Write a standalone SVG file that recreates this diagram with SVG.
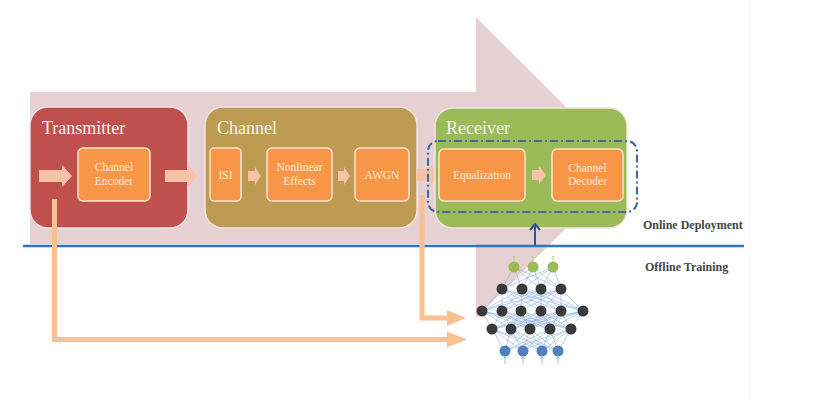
<svg xmlns="http://www.w3.org/2000/svg" width="814" height="400" viewBox="0 0 814 400">
<style>
.title{font-family:"Liberation Serif","Times New Roman",serif;font-size:18px;fill:#f7f3ee}
.inner{font-family:"Liberation Serif","Times New Roman",serif;font-size:11.5px;fill:#fde9d9;text-anchor:middle}
.label{font-family:"Liberation Serif","Times New Roman",serif;font-size:12px;font-weight:bold;fill:#454545}
.big{stroke:#f2e4e2;stroke-width:1.5}
.blk{fill:#f79646;stroke:#fbe3cf;stroke-width:1.5}
.peach{fill:#f8c3a8}
.lline{fill:none;stroke:#fbc08f;stroke-width:5}
.lhead{fill:#fbc08f}
.nnl{fill:none;stroke:#8eb0dd;stroke-width:0.7;opacity:0.85}
.nb{fill:#3a3a3a}
.ng{fill:#9bbb59}
.nu{fill:#4f81bd}
</style>
<rect width="814" height="400" fill="#ffffff"/>
<line x1="750" y1="0" x2="750" y2="400" stroke="#f3f3f3" stroke-width="1"/>

<g id="flow-arrow">
<polygon points="30,92 476,92 476,17 627,167.5 476,318 476,244 30,244" fill="#e6d0d1"/>
</g>

<g id="divider">
<line x1="23" y1="246" x2="744" y2="246" stroke="#2e75c8" stroke-width="2.5"/>
</g>

<g id="transmitter">
<rect class="big" x="30" y="107" width="158" height="121" rx="18" fill="#c0504d"/>
<text class="title" x="42" y="134">Transmitter</text>
<polygon class="peach" points="39,170 62,170 62,165 72,176 62,187 62,182 39,182"/>
<g id="channel-encoder">
<rect class="blk" x="78" y="148" width="72" height="53" rx="5"/>
<text class="inner" x="114" y="171">Channel</text>
<text class="inner" x="114" y="184.5">Encoder</text>
</g>
</g>

<g id="channel">
<rect class="big" x="205" y="107" width="212" height="121" rx="18" fill="#bd9b52"/>
<text class="title" x="217" y="134">Channel</text>
<g id="isi">
<rect class="blk" x="210" y="148" width="31" height="53" rx="4"/>
<text class="inner" x="225.5" y="179">ISI</text>
</g>
<g id="nonlinear-effects">
<rect class="blk" x="267" y="148" width="65" height="53" rx="5"/>
<text class="inner" x="299.5" y="171">Nonlinear</text>
<text class="inner" x="299.5" y="184.5">Effects</text>
</g>
<g id="awgn">
<rect class="blk" x="355" y="148" width="54" height="53" rx="5"/>
<text class="inner" x="382" y="179">AWGN</text>
</g>
</g>

<g id="connectors">
<polygon class="peach" points="165,170 187,170 187,165 197,176 187,187 187,182 165,182"/>
<polygon class="peach" points="248,171 255,171 255,167 261,176 255,185 255,181 248,181"/>
<polygon class="peach" points="338,171 344,171 344,167 350,176 344,185 344,181 338,181"/>
<polygon class="peach" points="417,169 430,169 430,164 440,175 430,186 430,181 417,181"/>
<path class="lline" d="M54.5 199V339.5H449"/>
<polygon class="lhead" points="447,331.5 467,339.5 447,347.5"/>
<path class="lline" d="M422 195V318H449"/>
<polygon class="lhead" points="447,310 466,318 447,326"/>
</g>

<g id="receiver">
<rect class="big" x="435" y="108" width="192" height="120" rx="18" fill="#9bbb59"/>
<text class="title" x="446" y="134">Receiver</text>
<g id="equalization">
<rect class="blk" x="439" y="149" width="86" height="52" rx="5"/>
<text class="inner" x="482" y="179">Equalization</text>
</g>
<polygon class="peach" points="532,170 539,170 539,166 546,175 539,184 539,180 532,180"/>
<g id="channel-decoder">
<rect class="blk" x="552" y="149" width="71" height="52" rx="5"/>
<text class="inner" x="587.5" y="171.5">Channel</text>
<text class="inner" x="587.5" y="185">Decoder</text>
</g>
</g>

<g id="deployed-block">
<rect x="428" y="141" width="209" height="71" rx="10" fill="none" stroke="#41689f" stroke-width="2" stroke-dasharray="8 3 2 3"/>
</g>

<g id="deploy-arrow">
<line x1="535" y1="246" x2="535" y2="224" stroke="#2f5597" stroke-width="2"/>
<polyline points="530,230 535,224 540,230" fill="none" stroke="#2f5597" stroke-width="2"/>
</g>

<g id="neural-network">
<path class="nnl" d="M514 267L502 289M514 267L522 289M514 267L541 289M514 267L561 289M533 267L502 289M533 267L522 289M533 267L541 289M533 267L561 289M553 267L502 289M553 267L522 289M553 267L541 289M553 267L561 289
M502 289L482 311M502 289L502 311M502 289L521 311M502 289L541 311M502 289L561 311M502 289L583 311
M522 289L482 311M522 289L502 311M522 289L521 311M522 289L541 311M522 289L561 311M522 289L583 311
M541 289L482 311M541 289L502 311M541 289L521 311M541 289L541 311M541 289L561 311M541 289L583 311
M561 289L482 311M561 289L502 311M561 289L521 311M561 289L541 311M561 289L561 311M561 289L583 311
M482 311L492 329M482 311L511 329M482 311L530 329M482 311L550 329M482 311L571 329
M502 311L492 329M502 311L511 329M502 311L530 329M502 311L550 329M502 311L571 329
M521 311L492 329M521 311L511 329M521 311L530 329M521 311L550 329M521 311L571 329
M541 311L492 329M541 311L511 329M541 311L530 329M541 311L550 329M541 311L571 329
M561 311L492 329M561 311L511 329M561 311L530 329M561 311L550 329M561 311L571 329
M583 311L492 329M583 311L511 329M583 311L530 329M583 311L550 329M583 311L571 329
M492 329L505 351M492 329L523 351M492 329L542 351M492 329L558 351
M511 329L505 351M511 329L523 351M511 329L542 351M511 329L558 351
M530 329L505 351M530 329L523 351M530 329L542 351M530 329L558 351
M550 329L505 351M550 329L523 351M550 329L542 351M550 329L558 351
M571 329L505 351M571 329L523 351M571 329L542 351M571 329L558 351"/>
<path d="M514 262V256M512.5 258L514 256L515.5 258M533 262V256M531.5 258L533 256L534.5 258M553 262V256M551.5 258L553 256L554.5 258" fill="none" stroke="#b5cf8a" stroke-width="0.8"/>
<path d="M505 364V357M503.5 359L505 357L506.5 359M523 364V357M521.5 359L523 357L524.5 359M542 364V357M540.5 359L542 357L543.5 359M558 364V357M556.5 359L558 357L559.5 359" fill="none" stroke="#8eb0dd" stroke-width="0.8"/>
<circle class="ng" cx="514" cy="267" r="5.5"/><circle class="ng" cx="533" cy="267" r="5.5"/><circle class="ng" cx="553" cy="267" r="5.5"/>
<circle class="nb" cx="502" cy="289" r="5.5"/><circle class="nb" cx="522" cy="289" r="5.5"/><circle class="nb" cx="541" cy="289" r="5.5"/><circle class="nb" cx="561" cy="289" r="5.5"/>
<circle class="nb" cx="482" cy="311" r="5.5"/><circle class="nb" cx="502" cy="311" r="5.5"/><circle class="nb" cx="521" cy="311" r="5.5"/><circle class="nb" cx="541" cy="311" r="5.5"/><circle class="nb" cx="561" cy="311" r="5.5"/><circle class="nb" cx="583" cy="311" r="5.5"/>
<circle class="nb" cx="492" cy="329" r="5.5"/><circle class="nb" cx="511" cy="329" r="5.5"/><circle class="nb" cx="530" cy="329" r="5.5"/><circle class="nb" cx="550" cy="329" r="5.5"/><circle class="nb" cx="571" cy="329" r="5.5"/>
<circle class="nu" cx="505" cy="351" r="5.5"/><circle class="nu" cx="523" cy="351" r="5.5"/><circle class="nu" cx="542" cy="351" r="5.5"/><circle class="nu" cx="558" cy="351" r="5.5"/>
</g>

<g id="labels">
<text class="label" x="643" y="229">Online Deployment</text>
<text class="label" x="645" y="271">Offline Training</text>
</g>
</svg>
